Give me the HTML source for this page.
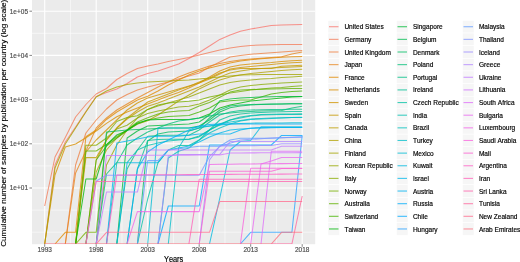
<!DOCTYPE html><html><head><meta charset="utf-8"><style>html,body{margin:0;padding:0;background:#fff;width:520px;height:262px;overflow:hidden}svg{display:block;will-change:transform}text{font-family:"Liberation Sans",sans-serif;font-kerning:none}</style></head><body>
<svg width="520" height="262" viewBox="0 0 520 262">
<rect x="0" y="0" width="520" height="262" fill="#fff"/>
<rect x="32.0" y="-2.0" width="283.20" height="246.20" fill="#EBEBEB"/>
<line x1="70.45" y1="-2.0" x2="70.45" y2="244.2" stroke="#fff" stroke-width="0.55"/>
<line x1="121.95" y1="-2.0" x2="121.95" y2="244.2" stroke="#fff" stroke-width="0.55"/>
<line x1="173.45" y1="-2.0" x2="173.45" y2="244.2" stroke="#fff" stroke-width="0.55"/>
<line x1="224.95" y1="-2.0" x2="224.95" y2="244.2" stroke="#fff" stroke-width="0.55"/>
<line x1="276.45" y1="-2.0" x2="276.45" y2="244.2" stroke="#fff" stroke-width="0.55"/>
<line x1="32.0" y1="232.20" x2="315.2" y2="232.20" stroke="#fff" stroke-width="0.55"/>
<line x1="32.0" y1="210.10" x2="315.2" y2="210.10" stroke="#fff" stroke-width="0.55"/>
<line x1="32.0" y1="165.90" x2="315.2" y2="165.90" stroke="#fff" stroke-width="0.55"/>
<line x1="32.0" y1="121.70" x2="315.2" y2="121.70" stroke="#fff" stroke-width="0.55"/>
<line x1="32.0" y1="77.50" x2="315.2" y2="77.50" stroke="#fff" stroke-width="0.55"/>
<line x1="32.0" y1="33.30" x2="315.2" y2="33.30" stroke="#fff" stroke-width="0.55"/>
<line x1="44.70" y1="-2.0" x2="44.70" y2="244.2" stroke="#fff" stroke-width="1.1"/>
<line x1="96.20" y1="-2.0" x2="96.20" y2="244.2" stroke="#fff" stroke-width="1.1"/>
<line x1="147.70" y1="-2.0" x2="147.70" y2="244.2" stroke="#fff" stroke-width="1.1"/>
<line x1="199.20" y1="-2.0" x2="199.20" y2="244.2" stroke="#fff" stroke-width="1.1"/>
<line x1="250.70" y1="-2.0" x2="250.70" y2="244.2" stroke="#fff" stroke-width="1.1"/>
<line x1="302.20" y1="-2.0" x2="302.20" y2="244.2" stroke="#fff" stroke-width="1.1"/>
<line x1="32.0" y1="188.00" x2="315.2" y2="188.00" stroke="#fff" stroke-width="1.1"/>
<line x1="32.0" y1="143.80" x2="315.2" y2="143.80" stroke="#fff" stroke-width="1.1"/>
<line x1="32.0" y1="99.60" x2="315.2" y2="99.60" stroke="#fff" stroke-width="1.1"/>
<line x1="32.0" y1="55.40" x2="315.2" y2="55.40" stroke="#fff" stroke-width="1.1"/>
<line x1="32.0" y1="11.20" x2="315.2" y2="11.20" stroke="#fff" stroke-width="1.1"/>
<defs><clipPath id="pc"><rect x="32.0" y="-2.0" width="283.20" height="246.00"/></clipPath></defs>
<g fill="none" stroke-width="1.05" stroke-linejoin="round" stroke-linecap="butt" stroke-opacity="0.78" clip-path="url(#pc)">
<polyline points="44.70,244.00 55.00,165.00 65.30,142.00 75.60,127.00 85.90,111.50 96.20,96.50 106.50,92.50 116.80,89.00 127.10,83.50 137.40,77.00 147.70,73.50 158.00,71.00 168.30,67.50 178.60,64.00 188.90,58.50 199.20,52.50 209.50,46.00 219.80,39.40 230.10,35.00 240.40,31.30 250.70,29.00 261.00,27.30 271.30,25.60 281.60,25.00 291.90,24.70 302.20,24.40" stroke="#F8766D"/>
<polyline points="44.70,206.00 55.00,157.00 65.30,137.50 75.60,117.00 85.90,104.50 96.20,94.00 106.50,88.50 116.80,79.50 127.10,73.50 137.40,68.50 147.70,66.00 158.00,64.00 168.30,61.50 178.60,59.50 188.90,57.50 199.20,55.00 209.50,52.50 219.80,50.00 230.10,48.00 240.40,46.50 250.70,45.50 261.00,45.00 271.30,44.80 281.60,44.60 291.90,44.50 302.20,44.50" stroke="#F37B59"/>
<polyline points="65.30,244.00 75.60,165.00 85.90,133.00 96.20,120.00 106.50,109.00 116.80,100.00 127.10,94.50 137.40,90.00 147.70,87.00 158.00,84.50 168.30,82.00 178.60,79.00 188.90,76.00 199.20,73.00 209.50,67.00 219.80,62.00 230.10,57.00 240.40,55.50 250.70,54.20 261.00,53.50 271.30,52.80 281.60,52.00 291.90,51.20 302.20,50.40" stroke="#EE8042"/>
<polyline points="65.30,244.00 75.60,173.00 85.90,151.00 96.20,128.00 106.50,118.00 116.80,110.00 127.10,104.00 137.40,98.00 147.70,92.50 158.00,87.00 168.30,82.00 178.60,77.00 188.90,73.00 199.20,69.50 209.50,66.00 219.80,63.50 230.10,61.50 240.40,60.00 250.70,59.00 261.00,58.20 271.30,57.50 281.60,56.80 291.90,54.00 302.20,52.00" stroke="#E7851E"/>
<polyline points="55.00,244.00 65.30,232.30 75.60,232.30 85.90,136.70 96.20,130.00 106.50,119.50 116.80,112.00 127.10,106.00 137.40,100.00 147.70,96.30 158.00,91.00 168.30,85.00 178.60,80.00 188.90,75.00 199.20,71.00 209.50,68.00 219.80,65.50 230.10,63.00 240.40,61.00 250.70,59.80 261.00,58.80 271.30,58.00 281.60,57.30 291.90,56.80 302.20,56.40" stroke="#E08A00"/>
<polyline points="44.70,244.00 55.00,175.00 65.30,147.00 75.60,144.00 85.90,137.70 96.20,131.00 106.50,123.40 116.80,116.70 127.10,112.00 137.40,108.00 147.70,104.00 158.00,100.00 168.30,96.00 178.60,92.50 188.90,88.00 199.20,83.00 209.50,77.00 219.80,71.00 230.10,67.00 240.40,65.00 250.70,64.00 261.00,63.20 271.30,62.50 281.60,61.50 291.90,60.80 302.20,60.30" stroke="#D98F00"/>
<polyline points="75.60,244.00 85.90,152.00 96.20,140.00 106.50,130.00 116.80,120.00 127.10,110.00 137.40,103.00 147.70,98.00 158.00,95.00 168.30,92.00 178.60,89.00 188.90,86.00 199.20,83.00 209.50,79.00 219.80,74.00 230.10,69.00 240.40,67.50 250.70,66.50 261.00,65.50 271.30,64.50 281.60,63.50 291.90,62.80 302.20,62.20" stroke="#D09400"/>
<polyline points="85.90,244.00 96.20,160.00 106.50,140.00 116.80,128.00 127.10,118.00 137.40,110.00 147.70,102.00 158.00,98.00 168.30,94.00 178.60,90.00 188.90,86.50 199.20,82.00 209.50,78.00 219.80,73.00 230.10,70.00 240.40,68.50 250.70,68.50 261.00,68.50 271.30,68.50 281.60,66.30 291.90,65.80 302.20,65.30" stroke="#C79800"/>
<polyline points="75.60,244.00 85.90,157.60 96.20,157.60 106.50,140.00 116.80,128.00 127.10,119.00 137.40,112.00 147.70,106.30 158.00,103.00 168.30,99.00 178.60,95.00 188.90,91.00 199.20,87.00 209.50,82.00 219.80,77.00 230.10,73.00 240.40,71.00 250.70,69.50 261.00,68.50 271.30,68.00 281.60,67.50 291.90,67.00 302.20,66.50" stroke="#BD9D00"/>
<polyline points="85.90,244.00 96.20,172.00 106.50,150.00 116.80,138.00 127.10,130.00 137.40,124.00 147.70,120.80 158.00,115.00 168.30,108.00 178.60,101.00 188.90,95.00 199.20,89.00 209.50,84.00 219.80,80.00 230.10,77.00 240.40,75.00 250.70,73.50 261.00,72.50 271.30,71.50 281.60,70.50 291.90,69.80 302.20,69.20" stroke="#B2A100"/>
<polyline points="44.70,244.00 55.00,168.00 65.30,144.00 75.60,128.00 85.90,112.00 96.20,97.00 106.50,91.00 116.80,87.00 127.10,84.50 137.40,83.00 147.70,82.00 158.00,81.50 168.30,81.00 178.60,80.50 188.90,80.00 199.20,79.00 209.50,78.00 219.80,77.00 230.10,76.00 240.40,75.00 250.70,74.80 261.00,74.60 271.30,74.50 281.60,74.50 291.90,74.50 302.20,74.50" stroke="#A5A500"/>
<polyline points="96.20,244.00 106.50,165.00 116.80,145.00 127.10,130.00 137.40,118.00 147.70,109.40 158.00,106.00 168.30,103.00 178.60,100.00 188.90,97.00 199.20,93.00 209.50,89.00 219.80,85.00 230.10,82.50 240.40,81.00 250.70,80.00 261.00,79.00 271.30,78.50 281.60,77.50 291.90,77.00 302.20,76.30" stroke="#98A800"/>
<polyline points="75.60,244.00 85.90,145.30 96.20,145.30 106.50,138.00 116.80,129.00 127.10,125.30 137.40,118.00 147.70,113.60 158.00,111.00 168.30,109.00 178.60,107.00 188.90,106.30 199.20,104.00 209.50,100.00 219.80,95.00 230.10,90.00 240.40,87.00 250.70,85.50 261.00,84.50 271.30,83.80 281.60,83.00 291.90,82.50 302.20,82.00" stroke="#89AC00"/>
<polyline points="75.60,244.00 85.90,232.30 96.20,232.30 106.50,134.00 116.80,121.50 127.10,117.60 137.40,115.70 147.70,109.40 158.00,105.00 168.30,103.00 178.60,102.00 188.90,101.20 199.20,100.00 209.50,97.00 219.80,95.00 230.10,93.00 240.40,91.50 250.70,90.00 261.00,89.00 271.30,88.00 281.60,87.50 291.90,86.50 302.20,85.80" stroke="#77AF00"/>
<polyline points="75.60,244.00 85.90,151.00 96.20,151.00 106.50,144.40 116.80,136.70 127.10,130.00 137.40,122.00 147.70,117.70 158.00,114.00 168.30,112.00 178.60,111.00 188.90,110.50 199.20,106.00 209.50,102.50 219.80,97.30 230.10,92.10 240.40,90.00 250.70,89.50 261.00,89.30 271.30,89.00 281.60,88.80 291.90,88.60 302.20,88.50" stroke="#62B200"/>
<polyline points="85.90,244.00 96.20,160.00 106.50,146.00 116.80,138.00 127.10,130.50 137.40,124.00 147.70,120.00 158.00,118.00 168.30,116.50 178.60,116.00 188.90,115.60 199.20,112.00 209.50,108.00 219.80,102.00 230.10,100.80 240.40,100.00 250.70,99.90 261.00,97.00 271.30,94.00 281.60,92.50 291.90,91.50 302.20,91.00" stroke="#45B500"/>
<polyline points="75.60,244.00 85.90,179.00 96.20,179.00 106.50,145.00 116.80,135.00 127.10,130.50 137.40,123.00 147.70,120.00 158.00,119.50 168.30,119.50 178.60,119.50 188.90,119.50 199.20,118.00 209.50,114.00 219.80,108.00 230.10,105.00 240.40,103.00 250.70,101.00 261.00,100.00 271.30,99.00 281.60,98.00 291.90,97.00 302.20,96.40" stroke="#00B709"/>
<polyline points="116.80,244.00 127.10,138.00 137.40,131.00 147.70,126.00 158.00,125.50 168.30,125.00 178.60,124.50 188.90,123.90 199.20,122.00 209.50,115.00 219.80,100.80 230.10,99.00 240.40,98.00 250.70,97.50 261.00,97.00 271.30,96.80 281.60,96.60 291.90,96.50 302.20,96.40" stroke="#00BA38"/>
<polyline points="96.20,244.00 106.50,132.00 116.80,131.00 127.10,130.00 137.40,129.50 147.70,129.00 158.00,128.50 168.30,128.00 178.60,128.00 188.90,128.00 199.20,126.00 209.50,120.00 219.80,112.00 230.10,107.70 240.40,106.00 250.70,105.00 261.00,104.50 271.30,104.20 281.60,104.00 291.90,103.80 302.20,103.70" stroke="#00BC51"/>
<polyline points="137.40,244.00 147.70,141.00 158.00,134.00 168.30,132.00 178.60,131.50 188.90,131.00 199.20,128.00 209.50,118.00 219.80,110.00 230.10,106.00 240.40,105.00 250.70,104.50 261.00,104.20 271.30,104.00 281.60,103.90 291.90,103.80 302.20,103.70" stroke="#00BD65"/>
<polyline points="96.20,244.00 106.50,174.00 116.80,162.70 127.10,145.00 137.40,138.00 147.70,132.00 158.00,128.00 168.30,124.00 178.60,121.00 188.90,119.70 199.20,118.00 209.50,116.00 219.80,114.00 230.10,113.00 240.40,112.00 250.70,111.50 261.00,111.00 271.30,110.80 281.60,110.50 291.90,108.00 302.20,106.20" stroke="#00BF77"/>
<polyline points="116.80,244.00 127.10,169.00 137.40,150.00 147.70,136.20 158.00,135.50 168.30,135.20 178.60,135.20 188.90,135.20 199.20,130.00 209.50,122.00 219.80,115.00 230.10,112.00 240.40,110.50 250.70,110.00 261.00,109.80 271.30,109.60 281.60,109.40 291.90,109.30 302.20,109.20" stroke="#00C087"/>
<polyline points="127.10,244.00 137.40,169.00 147.70,140.40 158.00,139.50 168.30,139.30 178.60,139.30 188.90,139.30 199.20,136.00 209.50,130.00 219.80,120.00 230.10,116.00 240.40,114.00 250.70,113.00 261.00,112.50 271.30,112.00 281.60,111.80 291.90,111.60 302.20,111.50" stroke="#00C096"/>
<polyline points="137.40,244.00 147.70,199.00 158.00,162.70 168.30,150.00 178.60,145.50 188.90,145.50 199.20,140.00 209.50,130.00 219.80,125.00 230.10,120.00 240.40,117.00 250.70,115.50 261.00,114.50 271.30,114.20 281.60,114.00 291.90,113.90 302.20,113.80" stroke="#00C1A4"/>
<polyline points="106.50,244.00 116.80,162.70 127.10,162.70 137.40,150.00 147.70,145.50 158.00,143.00 168.30,141.00 178.60,140.00 188.90,139.30 199.20,136.90 209.50,130.00 219.80,124.00 230.10,120.00 240.40,118.00 250.70,116.00 261.00,115.00 271.30,114.80 281.60,114.60 291.90,114.50 302.20,114.40" stroke="#00C0B2"/>
<polyline points="158.00,244.00 168.30,158.00 178.60,151.30 188.90,148.00 199.20,140.00 209.50,133.00 219.80,128.00 230.10,124.00 240.40,121.00 250.70,119.50 261.00,119.00 271.30,118.50 281.60,118.00 291.90,117.60 302.20,117.30" stroke="#00C0BE"/>
<polyline points="168.30,244.00 178.60,148.00 188.90,131.00 199.20,128.00 209.50,126.00 219.80,124.00 230.10,122.00 240.40,120.50 250.70,119.00 261.00,118.50 271.30,118.00 281.60,117.80 291.90,117.60 302.20,117.50" stroke="#00BECA"/>
<polyline points="147.70,244.00 158.00,128.00 168.30,128.00 178.60,128.00 188.90,128.00 199.20,127.00 209.50,126.00 219.80,125.00 230.10,124.00 240.40,123.50 250.70,123.20 261.00,123.00 271.30,123.00 281.60,122.90 291.90,122.80 302.20,122.80" stroke="#00BCD6"/>
<polyline points="209.50,244.00 219.80,198.00 230.10,150.00 240.40,141.50 250.70,140.50 261.00,126.80 271.30,126.80 281.60,126.80 291.90,126.80 302.20,126.80" stroke="#00BAE0"/>
<polyline points="116.80,244.00 127.10,162.70 137.40,162.70 147.70,162.70 158.00,162.70 168.30,150.00 178.60,148.00 188.90,146.00 199.20,142.00 209.50,137.00 219.80,133.00 230.10,130.00 240.40,129.00 250.70,128.50 261.00,128.00 271.30,127.80 281.60,127.60 291.90,127.50 302.20,127.40" stroke="#00B7E9"/>
<polyline points="106.50,244.00 116.80,143.00 127.10,141.00 137.40,139.00 147.70,137.00 158.00,136.20 168.30,136.20 178.60,136.20 188.90,135.20 199.20,134.00 209.50,134.00 219.80,134.00 230.10,134.00 240.40,130.00 250.70,128.00 261.00,127.60 271.30,127.57 281.60,127.55 291.90,127.53 302.20,127.50" stroke="#00B3F2"/>
<polyline points="127.10,244.00 137.40,169.00 147.70,152.00 158.00,145.00 168.30,140.00 178.60,135.00 188.90,130.00 199.20,126.00 209.50,124.50 219.80,124.00 230.10,123.99 240.40,123.97 250.70,123.96 261.00,123.95 271.30,123.94 281.60,123.93 291.90,123.91 302.20,123.90" stroke="#00AEF9"/>
<polyline points="158.00,244.00 168.30,206.00 178.60,206.00 188.90,206.00 199.20,206.00 209.50,145.00 219.80,145.00 230.10,145.00 240.40,145.00 250.70,145.00 261.00,145.00 271.30,145.00 281.60,135.40 291.90,135.40 302.20,135.40" stroke="#00A9FF"/>
<polyline points="240.40,244.00 250.70,232.30 261.00,232.30 271.30,232.30 281.60,232.30 291.90,232.30 302.20,135.40" stroke="#29A3FF"/>
<polyline points="137.40,244.00 147.70,160.60 158.00,160.60 168.30,150.00 178.60,148.77 188.90,147.53 199.20,146.30 209.50,146.30 219.80,146.30 230.10,140.00 240.40,138.20 250.70,138.20 261.00,138.20 271.30,138.20 281.60,137.70 291.90,137.20 302.20,136.70" stroke="#619CFF"/>
<polyline points="85.90,244.00 96.20,181.00 106.50,175.20 116.80,175.20 127.10,175.20 137.40,175.20 147.70,175.20 158.00,175.20 168.30,175.20 178.60,175.20 188.90,175.20 199.20,175.20 209.50,156.50 219.80,146.30 230.10,143.15 240.40,140.00 250.70,139.33 261.00,138.67 271.30,138.00 281.60,137.73 291.90,137.47 302.20,137.20" stroke="#8295FF"/>
<polyline points="199.20,244.00 209.50,160.00 219.80,146.00 230.10,145.90 240.40,145.80 250.70,145.70 261.00,145.60 271.30,145.50 281.60,143.80 291.90,143.80 302.20,143.80" stroke="#9C8DFF"/>
<polyline points="158.00,244.00 168.30,156.00 178.60,154.40 188.90,154.40 199.20,154.40 209.50,154.40 219.80,154.40 230.10,141.50 240.40,141.50 250.70,141.50 261.00,141.50 271.30,141.50 281.60,141.50 291.90,141.50 302.20,141.50" stroke="#B186FF"/>
<polyline points="96.20,244.00 106.50,192.00 116.80,192.00 127.10,192.00 137.40,192.00 147.70,150.00 158.00,150.00 168.30,150.00 178.60,150.00 188.90,150.00 199.20,150.00 209.50,150.00 219.80,150.00 230.10,150.00 240.40,150.00 250.70,150.00 261.00,150.00 271.30,150.00 281.60,146.30 291.90,146.30 302.20,146.30" stroke="#C37EFF"/>
<polyline points="96.20,244.00 106.50,155.50 116.80,155.45 127.10,155.41 137.40,155.36 147.70,155.32 158.00,155.27 168.30,155.23 178.60,155.18 188.90,155.14 199.20,155.09 209.50,155.05 219.80,155.00 230.10,153.00 240.40,152.94 250.70,152.89 261.00,152.83 271.30,152.77 281.60,152.71 291.90,152.66 302.20,152.60" stroke="#D277FF"/>
<polyline points="261.00,244.00 271.30,151.30 281.60,151.30 291.90,151.30 302.20,151.30" stroke="#DF70F9"/>
<polyline points="250.70,244.00 261.00,164.00 271.30,161.00 281.60,157.40 291.90,157.40 302.20,157.40" stroke="#E96AF1"/>
<polyline points="127.10,244.00 137.40,211.60 147.70,211.60 158.00,211.60 168.30,211.60 178.60,211.60 188.90,211.60 199.20,211.60 209.50,164.40 219.80,164.29 230.10,164.18 240.40,164.07 250.70,163.96 261.00,163.84 271.30,163.73 281.60,163.62 291.90,163.51 302.20,163.40" stroke="#F166E8"/>
<polyline points="240.40,244.00 250.70,168.20 261.00,168.20 271.30,168.20 281.60,168.20 291.90,168.20 302.20,168.20" stroke="#F863DE"/>
<polyline points="199.20,244.00 209.50,171.20 219.80,171.20 230.10,171.20 240.40,171.20 250.70,171.20 261.00,171.20 271.30,171.20 281.60,168.50 291.90,168.50 302.20,168.50" stroke="#FC61D3"/>
<polyline points="106.50,244.00 116.80,175.00 127.10,174.94 137.40,174.89 147.70,174.83 158.00,174.78 168.30,174.72 178.60,174.67 188.90,174.61 199.20,174.56 209.50,174.50 219.80,174.44 230.10,174.39 240.40,174.33 250.70,174.28 261.00,174.22 271.30,174.17 281.60,174.11 291.90,174.06 302.20,174.00" stroke="#FF61C7"/>
<polyline points="188.90,244.00 199.20,179.30 209.50,179.30 219.80,179.30 230.10,179.30 240.40,179.30 250.70,179.30 261.00,179.30 271.30,179.30 281.60,179.30 291.90,179.30 302.20,179.30" stroke="#FF62BA"/>
<polyline points="85.90,244.00 96.20,181.40 106.50,181.40 116.80,181.40 127.10,181.40 137.40,181.40 147.70,181.40 158.00,181.40 168.30,181.40 178.60,181.40 188.90,181.40 199.20,181.40 209.50,181.40 219.80,181.40 230.10,181.40 240.40,181.40 250.70,181.40 261.00,181.40 271.30,181.40 281.60,181.40 291.90,181.40 302.20,181.40" stroke="#FF65AD"/>
<polyline points="291.90,244.00 302.20,196.00" stroke="#FF689E"/>
<polyline points="96.20,244.00 106.50,232.30 116.80,232.30 127.10,232.30 137.40,232.30 147.70,232.30 158.00,232.30 168.30,232.30 178.60,232.30 188.90,232.30 199.20,232.30 209.50,232.30 219.80,201.50 230.10,201.50 240.40,201.50 250.70,201.50 261.00,201.50 271.30,201.50 281.60,201.50 291.90,201.50 302.20,201.50" stroke="#FF6D8F"/>
<polyline points="271.30,244.00 281.60,232.30 291.90,232.30 302.20,232.30" stroke="#FC717F"/>
<line x1="44.70" y1="244.0" x2="271.30" y2="244.0" stroke="#FC717F" stroke-width="1.05" stroke-opacity="1.0"/>
<line x1="271.30" y1="244.0" x2="291.90" y2="244.0" stroke="#FF689E" stroke-width="1.05" stroke-opacity="1.0"/>
</g>
<g stroke="#333" stroke-width="0.6">
<line x1="29.40" y1="188.00" x2="32.0" y2="188.00"/>
<line x1="29.40" y1="143.80" x2="32.0" y2="143.80"/>
<line x1="29.40" y1="99.60" x2="32.0" y2="99.60"/>
<line x1="29.40" y1="55.40" x2="32.0" y2="55.40"/>
<line x1="29.40" y1="11.20" x2="32.0" y2="11.20"/>
<line x1="44.70" y1="244.2" x2="44.70" y2="246.80"/>
<line x1="96.20" y1="244.2" x2="96.20" y2="246.80"/>
<line x1="147.70" y1="244.2" x2="147.70" y2="246.80"/>
<line x1="199.20" y1="244.2" x2="199.20" y2="246.80"/>
<line x1="250.70" y1="244.2" x2="250.70" y2="246.80"/>
<line x1="302.20" y1="244.2" x2="302.20" y2="246.80"/>
</g>
<text transform="translate(28.00,190.40) scale(1,1.1)" font-size="6.5" fill="#4D4D4D" stroke="#4D4D4D" stroke-width="0.16" text-anchor="end" >1e+01</text>
<text transform="translate(28.00,146.20) scale(1,1.1)" font-size="6.5" fill="#4D4D4D" stroke="#4D4D4D" stroke-width="0.16" text-anchor="end" >1e+02</text>
<text transform="translate(28.00,102.00) scale(1,1.1)" font-size="6.5" fill="#4D4D4D" stroke="#4D4D4D" stroke-width="0.16" text-anchor="end" >1e+03</text>
<text transform="translate(28.00,57.80) scale(1,1.1)" font-size="6.5" fill="#4D4D4D" stroke="#4D4D4D" stroke-width="0.16" text-anchor="end" >1e+04</text>
<text transform="translate(28.00,13.60) scale(1,1.1)" font-size="6.5" fill="#4D4D4D" stroke="#4D4D4D" stroke-width="0.16" text-anchor="end" >1e+05</text>
<text transform="translate(44.70,251.80) scale(1,1.1)" font-size="6.5" fill="#4D4D4D" stroke="#4D4D4D" stroke-width="0.16" text-anchor="middle" >1993</text>
<text transform="translate(96.20,251.80) scale(1,1.1)" font-size="6.5" fill="#4D4D4D" stroke="#4D4D4D" stroke-width="0.16" text-anchor="middle" >1998</text>
<text transform="translate(147.70,251.80) scale(1,1.1)" font-size="6.5" fill="#4D4D4D" stroke="#4D4D4D" stroke-width="0.16" text-anchor="middle" >2003</text>
<text transform="translate(199.20,251.80) scale(1,1.1)" font-size="6.5" fill="#4D4D4D" stroke="#4D4D4D" stroke-width="0.16" text-anchor="middle" >2008</text>
<text transform="translate(250.70,251.80) scale(1,1.1)" font-size="6.5" fill="#4D4D4D" stroke="#4D4D4D" stroke-width="0.16" text-anchor="middle" >2013</text>
<text transform="translate(302.20,251.80) scale(1,1.1)" font-size="6.5" fill="#4D4D4D" stroke="#4D4D4D" stroke-width="0.16" text-anchor="middle" >2018</text>
<text transform="translate(173.60,262.00) scale(1,1.1)" font-size="7.42" fill="#000" stroke="#000" stroke-width="0.16" text-anchor="middle" >Years</text>
<text transform="translate(6.0,123.3) scale(1,1.1) rotate(-90)" x="0" y="0" font-size="7.42" text-anchor="middle" fill="#000" stroke="#000" stroke-width="0.14">Cumulative number of samples by publication per country (log scale)</text>
<g>
<rect x="328.0" y="20.40" width="11.5" height="12.64" fill="#F6F6F6" stroke="#fff" stroke-width="0.6"/>
<line x1="329.00" y1="26.72" x2="338.50" y2="26.72" stroke="#F8766D" stroke-width="1.1" stroke-opacity="0.75"/>
<text transform="translate(344.40,29.27) scale(1,1.1)" font-size="6.55" fill="#000" stroke="#000" stroke-width="0.16" text-anchor="start" >United States</text>
<rect x="328.0" y="33.04" width="11.5" height="12.64" fill="#F6F6F6" stroke="#fff" stroke-width="0.6"/>
<line x1="329.00" y1="39.36" x2="338.50" y2="39.36" stroke="#F37B59" stroke-width="1.1" stroke-opacity="0.75"/>
<text transform="translate(344.40,41.91) scale(1,1.1)" font-size="6.55" fill="#000" stroke="#000" stroke-width="0.16" text-anchor="start" >Germany</text>
<rect x="328.0" y="45.68" width="11.5" height="12.64" fill="#F6F6F6" stroke="#fff" stroke-width="0.6"/>
<line x1="329.00" y1="52.00" x2="338.50" y2="52.00" stroke="#EE8042" stroke-width="1.1" stroke-opacity="0.75"/>
<text transform="translate(344.40,54.55) scale(1,1.1)" font-size="6.55" fill="#000" stroke="#000" stroke-width="0.16" text-anchor="start" >United Kingdom</text>
<rect x="328.0" y="58.32" width="11.5" height="12.64" fill="#F6F6F6" stroke="#fff" stroke-width="0.6"/>
<line x1="329.00" y1="64.64" x2="338.50" y2="64.64" stroke="#E7851E" stroke-width="1.1" stroke-opacity="0.75"/>
<text transform="translate(344.40,67.19) scale(1,1.1)" font-size="6.55" fill="#000" stroke="#000" stroke-width="0.16" text-anchor="start" >Japan</text>
<rect x="328.0" y="70.96" width="11.5" height="12.64" fill="#F6F6F6" stroke="#fff" stroke-width="0.6"/>
<line x1="329.00" y1="77.28" x2="338.50" y2="77.28" stroke="#E08A00" stroke-width="1.1" stroke-opacity="0.75"/>
<text transform="translate(344.40,79.83) scale(1,1.1)" font-size="6.55" fill="#000" stroke="#000" stroke-width="0.16" text-anchor="start" >France</text>
<rect x="328.0" y="83.60" width="11.5" height="12.64" fill="#F6F6F6" stroke="#fff" stroke-width="0.6"/>
<line x1="329.00" y1="89.92" x2="338.50" y2="89.92" stroke="#D98F00" stroke-width="1.1" stroke-opacity="0.75"/>
<text transform="translate(344.40,92.47) scale(1,1.1)" font-size="6.55" fill="#000" stroke="#000" stroke-width="0.16" text-anchor="start" >Netherlands</text>
<rect x="328.0" y="96.24" width="11.5" height="12.64" fill="#F6F6F6" stroke="#fff" stroke-width="0.6"/>
<line x1="329.00" y1="102.56" x2="338.50" y2="102.56" stroke="#D09400" stroke-width="1.1" stroke-opacity="0.75"/>
<text transform="translate(344.40,105.11) scale(1,1.1)" font-size="6.55" fill="#000" stroke="#000" stroke-width="0.16" text-anchor="start" >Sweden</text>
<rect x="328.0" y="108.88" width="11.5" height="12.64" fill="#F6F6F6" stroke="#fff" stroke-width="0.6"/>
<line x1="329.00" y1="115.20" x2="338.50" y2="115.20" stroke="#C79800" stroke-width="1.1" stroke-opacity="0.75"/>
<text transform="translate(344.40,117.75) scale(1,1.1)" font-size="6.55" fill="#000" stroke="#000" stroke-width="0.16" text-anchor="start" >Spain</text>
<rect x="328.0" y="121.52" width="11.5" height="12.64" fill="#F6F6F6" stroke="#fff" stroke-width="0.6"/>
<line x1="329.00" y1="127.84" x2="338.50" y2="127.84" stroke="#BD9D00" stroke-width="1.1" stroke-opacity="0.75"/>
<text transform="translate(344.40,130.39) scale(1,1.1)" font-size="6.55" fill="#000" stroke="#000" stroke-width="0.16" text-anchor="start" >Canada</text>
<rect x="328.0" y="134.16" width="11.5" height="12.64" fill="#F6F6F6" stroke="#fff" stroke-width="0.6"/>
<line x1="329.00" y1="140.48" x2="338.50" y2="140.48" stroke="#B2A100" stroke-width="1.1" stroke-opacity="0.75"/>
<text transform="translate(344.40,143.03) scale(1,1.1)" font-size="6.55" fill="#000" stroke="#000" stroke-width="0.16" text-anchor="start" >China</text>
<rect x="328.0" y="146.80" width="11.5" height="12.64" fill="#F6F6F6" stroke="#fff" stroke-width="0.6"/>
<line x1="329.00" y1="153.12" x2="338.50" y2="153.12" stroke="#A5A500" stroke-width="1.1" stroke-opacity="0.75"/>
<text transform="translate(344.40,155.67) scale(1,1.1)" font-size="6.55" fill="#000" stroke="#000" stroke-width="0.16" text-anchor="start" >Finland</text>
<rect x="328.0" y="159.44" width="11.5" height="12.64" fill="#F6F6F6" stroke="#fff" stroke-width="0.6"/>
<line x1="329.00" y1="165.76" x2="338.50" y2="165.76" stroke="#98A800" stroke-width="1.1" stroke-opacity="0.75"/>
<text transform="translate(344.40,168.31) scale(1,1.1)" font-size="6.55" fill="#000" stroke="#000" stroke-width="0.16" text-anchor="start" >Korean Republic</text>
<rect x="328.0" y="172.08" width="11.5" height="12.64" fill="#F6F6F6" stroke="#fff" stroke-width="0.6"/>
<line x1="329.00" y1="178.40" x2="338.50" y2="178.40" stroke="#89AC00" stroke-width="1.1" stroke-opacity="0.75"/>
<text transform="translate(344.40,180.95) scale(1,1.1)" font-size="6.55" fill="#000" stroke="#000" stroke-width="0.16" text-anchor="start" >Italy</text>
<rect x="328.0" y="184.72" width="11.5" height="12.64" fill="#F6F6F6" stroke="#fff" stroke-width="0.6"/>
<line x1="329.00" y1="191.04" x2="338.50" y2="191.04" stroke="#77AF00" stroke-width="1.1" stroke-opacity="0.75"/>
<text transform="translate(344.40,193.59) scale(1,1.1)" font-size="6.55" fill="#000" stroke="#000" stroke-width="0.16" text-anchor="start" >Norway</text>
<rect x="328.0" y="197.36" width="11.5" height="12.64" fill="#F6F6F6" stroke="#fff" stroke-width="0.6"/>
<line x1="329.00" y1="203.68" x2="338.50" y2="203.68" stroke="#62B200" stroke-width="1.1" stroke-opacity="0.75"/>
<text transform="translate(344.40,206.23) scale(1,1.1)" font-size="6.55" fill="#000" stroke="#000" stroke-width="0.16" text-anchor="start" >Australia</text>
<rect x="328.0" y="210.00" width="11.5" height="12.64" fill="#F6F6F6" stroke="#fff" stroke-width="0.6"/>
<line x1="329.00" y1="216.32" x2="338.50" y2="216.32" stroke="#45B500" stroke-width="1.1" stroke-opacity="0.75"/>
<text transform="translate(344.40,218.87) scale(1,1.1)" font-size="6.55" fill="#000" stroke="#000" stroke-width="0.16" text-anchor="start" >Switzerland</text>
<rect x="328.0" y="222.64" width="11.5" height="12.64" fill="#F6F6F6" stroke="#fff" stroke-width="0.6"/>
<line x1="329.00" y1="228.96" x2="338.50" y2="228.96" stroke="#00B709" stroke-width="1.1" stroke-opacity="0.75"/>
<text transform="translate(344.40,231.51) scale(1,1.1)" font-size="6.55" fill="#000" stroke="#000" stroke-width="0.16" text-anchor="start" >Taiwan</text>
<rect x="396.5" y="20.40" width="11.5" height="12.64" fill="#F6F6F6" stroke="#fff" stroke-width="0.6"/>
<line x1="397.50" y1="26.72" x2="407.00" y2="26.72" stroke="#00BA38" stroke-width="1.1" stroke-opacity="0.75"/>
<text transform="translate(412.90,29.27) scale(1,1.1)" font-size="6.55" fill="#000" stroke="#000" stroke-width="0.16" text-anchor="start" >Singapore</text>
<rect x="396.5" y="33.04" width="11.5" height="12.64" fill="#F6F6F6" stroke="#fff" stroke-width="0.6"/>
<line x1="397.50" y1="39.36" x2="407.00" y2="39.36" stroke="#00BC51" stroke-width="1.1" stroke-opacity="0.75"/>
<text transform="translate(412.90,41.91) scale(1,1.1)" font-size="6.55" fill="#000" stroke="#000" stroke-width="0.16" text-anchor="start" >Belgium</text>
<rect x="396.5" y="45.68" width="11.5" height="12.64" fill="#F6F6F6" stroke="#fff" stroke-width="0.6"/>
<line x1="397.50" y1="52.00" x2="407.00" y2="52.00" stroke="#00BD65" stroke-width="1.1" stroke-opacity="0.75"/>
<text transform="translate(412.90,54.55) scale(1,1.1)" font-size="6.55" fill="#000" stroke="#000" stroke-width="0.16" text-anchor="start" >Denmark</text>
<rect x="396.5" y="58.32" width="11.5" height="12.64" fill="#F6F6F6" stroke="#fff" stroke-width="0.6"/>
<line x1="397.50" y1="64.64" x2="407.00" y2="64.64" stroke="#00BF77" stroke-width="1.1" stroke-opacity="0.75"/>
<text transform="translate(412.90,67.19) scale(1,1.1)" font-size="6.55" fill="#000" stroke="#000" stroke-width="0.16" text-anchor="start" >Poland</text>
<rect x="396.5" y="70.96" width="11.5" height="12.64" fill="#F6F6F6" stroke="#fff" stroke-width="0.6"/>
<line x1="397.50" y1="77.28" x2="407.00" y2="77.28" stroke="#00C087" stroke-width="1.1" stroke-opacity="0.75"/>
<text transform="translate(412.90,79.83) scale(1,1.1)" font-size="6.55" fill="#000" stroke="#000" stroke-width="0.16" text-anchor="start" >Portugal</text>
<rect x="396.5" y="83.60" width="11.5" height="12.64" fill="#F6F6F6" stroke="#fff" stroke-width="0.6"/>
<line x1="397.50" y1="89.92" x2="407.00" y2="89.92" stroke="#00C096" stroke-width="1.1" stroke-opacity="0.75"/>
<text transform="translate(412.90,92.47) scale(1,1.1)" font-size="6.55" fill="#000" stroke="#000" stroke-width="0.16" text-anchor="start" >Ireland</text>
<rect x="396.5" y="96.24" width="11.5" height="12.64" fill="#F6F6F6" stroke="#fff" stroke-width="0.6"/>
<line x1="397.50" y1="102.56" x2="407.00" y2="102.56" stroke="#00C1A4" stroke-width="1.1" stroke-opacity="0.75"/>
<text transform="translate(412.90,105.11) scale(1,1.1)" font-size="6.55" fill="#000" stroke="#000" stroke-width="0.16" text-anchor="start" >Czech Republic</text>
<rect x="396.5" y="108.88" width="11.5" height="12.64" fill="#F6F6F6" stroke="#fff" stroke-width="0.6"/>
<line x1="397.50" y1="115.20" x2="407.00" y2="115.20" stroke="#00C0B2" stroke-width="1.1" stroke-opacity="0.75"/>
<text transform="translate(412.90,117.75) scale(1,1.1)" font-size="6.55" fill="#000" stroke="#000" stroke-width="0.16" text-anchor="start" >India</text>
<rect x="396.5" y="121.52" width="11.5" height="12.64" fill="#F6F6F6" stroke="#fff" stroke-width="0.6"/>
<line x1="397.50" y1="127.84" x2="407.00" y2="127.84" stroke="#00C0BE" stroke-width="1.1" stroke-opacity="0.75"/>
<text transform="translate(412.90,130.39) scale(1,1.1)" font-size="6.55" fill="#000" stroke="#000" stroke-width="0.16" text-anchor="start" >Brazil</text>
<rect x="396.5" y="134.16" width="11.5" height="12.64" fill="#F6F6F6" stroke="#fff" stroke-width="0.6"/>
<line x1="397.50" y1="140.48" x2="407.00" y2="140.48" stroke="#00BECA" stroke-width="1.1" stroke-opacity="0.75"/>
<text transform="translate(412.90,143.03) scale(1,1.1)" font-size="6.55" fill="#000" stroke="#000" stroke-width="0.16" text-anchor="start" >Turkey</text>
<rect x="396.5" y="146.80" width="11.5" height="12.64" fill="#F6F6F6" stroke="#fff" stroke-width="0.6"/>
<line x1="397.50" y1="153.12" x2="407.00" y2="153.12" stroke="#00BCD6" stroke-width="1.1" stroke-opacity="0.75"/>
<text transform="translate(412.90,155.67) scale(1,1.1)" font-size="6.55" fill="#000" stroke="#000" stroke-width="0.16" text-anchor="start" >Mexico</text>
<rect x="396.5" y="159.44" width="11.5" height="12.64" fill="#F6F6F6" stroke="#fff" stroke-width="0.6"/>
<line x1="397.50" y1="165.76" x2="407.00" y2="165.76" stroke="#00BAE0" stroke-width="1.1" stroke-opacity="0.75"/>
<text transform="translate(412.90,168.31) scale(1,1.1)" font-size="6.55" fill="#000" stroke="#000" stroke-width="0.16" text-anchor="start" >Kuwait</text>
<rect x="396.5" y="172.08" width="11.5" height="12.64" fill="#F6F6F6" stroke="#fff" stroke-width="0.6"/>
<line x1="397.50" y1="178.40" x2="407.00" y2="178.40" stroke="#00B7E9" stroke-width="1.1" stroke-opacity="0.75"/>
<text transform="translate(412.90,180.95) scale(1,1.1)" font-size="6.55" fill="#000" stroke="#000" stroke-width="0.16" text-anchor="start" >Israel</text>
<rect x="396.5" y="184.72" width="11.5" height="12.64" fill="#F6F6F6" stroke="#fff" stroke-width="0.6"/>
<line x1="397.50" y1="191.04" x2="407.00" y2="191.04" stroke="#00B3F2" stroke-width="1.1" stroke-opacity="0.75"/>
<text transform="translate(412.90,193.59) scale(1,1.1)" font-size="6.55" fill="#000" stroke="#000" stroke-width="0.16" text-anchor="start" >Austria</text>
<rect x="396.5" y="197.36" width="11.5" height="12.64" fill="#F6F6F6" stroke="#fff" stroke-width="0.6"/>
<line x1="397.50" y1="203.68" x2="407.00" y2="203.68" stroke="#00AEF9" stroke-width="1.1" stroke-opacity="0.75"/>
<text transform="translate(412.90,206.23) scale(1,1.1)" font-size="6.55" fill="#000" stroke="#000" stroke-width="0.16" text-anchor="start" >Russia</text>
<rect x="396.5" y="210.00" width="11.5" height="12.64" fill="#F6F6F6" stroke="#fff" stroke-width="0.6"/>
<line x1="397.50" y1="216.32" x2="407.00" y2="216.32" stroke="#00A9FF" stroke-width="1.1" stroke-opacity="0.75"/>
<text transform="translate(412.90,218.87) scale(1,1.1)" font-size="6.55" fill="#000" stroke="#000" stroke-width="0.16" text-anchor="start" >Chile</text>
<rect x="396.5" y="222.64" width="11.5" height="12.64" fill="#F6F6F6" stroke="#fff" stroke-width="0.6"/>
<line x1="397.50" y1="228.96" x2="407.00" y2="228.96" stroke="#29A3FF" stroke-width="1.1" stroke-opacity="0.75"/>
<text transform="translate(412.90,231.51) scale(1,1.1)" font-size="6.55" fill="#000" stroke="#000" stroke-width="0.16" text-anchor="start" >Hungary</text>
<rect x="462.5" y="20.40" width="11.5" height="12.64" fill="#F6F6F6" stroke="#fff" stroke-width="0.6"/>
<line x1="463.50" y1="26.72" x2="473.00" y2="26.72" stroke="#619CFF" stroke-width="1.1" stroke-opacity="0.75"/>
<text transform="translate(478.90,29.27) scale(1,1.1)" font-size="6.55" fill="#000" stroke="#000" stroke-width="0.16" text-anchor="start" >Malaysia</text>
<rect x="462.5" y="33.04" width="11.5" height="12.64" fill="#F6F6F6" stroke="#fff" stroke-width="0.6"/>
<line x1="463.50" y1="39.36" x2="473.00" y2="39.36" stroke="#8295FF" stroke-width="1.1" stroke-opacity="0.75"/>
<text transform="translate(478.90,41.91) scale(1,1.1)" font-size="6.55" fill="#000" stroke="#000" stroke-width="0.16" text-anchor="start" >Thailand</text>
<rect x="462.5" y="45.68" width="11.5" height="12.64" fill="#F6F6F6" stroke="#fff" stroke-width="0.6"/>
<line x1="463.50" y1="52.00" x2="473.00" y2="52.00" stroke="#9C8DFF" stroke-width="1.1" stroke-opacity="0.75"/>
<text transform="translate(478.90,54.55) scale(1,1.1)" font-size="6.55" fill="#000" stroke="#000" stroke-width="0.16" text-anchor="start" >Iceland</text>
<rect x="462.5" y="58.32" width="11.5" height="12.64" fill="#F6F6F6" stroke="#fff" stroke-width="0.6"/>
<line x1="463.50" y1="64.64" x2="473.00" y2="64.64" stroke="#B186FF" stroke-width="1.1" stroke-opacity="0.75"/>
<text transform="translate(478.90,67.19) scale(1,1.1)" font-size="6.55" fill="#000" stroke="#000" stroke-width="0.16" text-anchor="start" >Greece</text>
<rect x="462.5" y="70.96" width="11.5" height="12.64" fill="#F6F6F6" stroke="#fff" stroke-width="0.6"/>
<line x1="463.50" y1="77.28" x2="473.00" y2="77.28" stroke="#C37EFF" stroke-width="1.1" stroke-opacity="0.75"/>
<text transform="translate(478.90,79.83) scale(1,1.1)" font-size="6.55" fill="#000" stroke="#000" stroke-width="0.16" text-anchor="start" >Ukraine</text>
<rect x="462.5" y="83.60" width="11.5" height="12.64" fill="#F6F6F6" stroke="#fff" stroke-width="0.6"/>
<line x1="463.50" y1="89.92" x2="473.00" y2="89.92" stroke="#D277FF" stroke-width="1.1" stroke-opacity="0.75"/>
<text transform="translate(478.90,92.47) scale(1,1.1)" font-size="6.55" fill="#000" stroke="#000" stroke-width="0.16" text-anchor="start" >Lithuania</text>
<rect x="462.5" y="96.24" width="11.5" height="12.64" fill="#F6F6F6" stroke="#fff" stroke-width="0.6"/>
<line x1="463.50" y1="102.56" x2="473.00" y2="102.56" stroke="#DF70F9" stroke-width="1.1" stroke-opacity="0.75"/>
<text transform="translate(478.90,105.11) scale(1,1.1)" font-size="6.55" fill="#000" stroke="#000" stroke-width="0.16" text-anchor="start" >South Africa</text>
<rect x="462.5" y="108.88" width="11.5" height="12.64" fill="#F6F6F6" stroke="#fff" stroke-width="0.6"/>
<line x1="463.50" y1="115.20" x2="473.00" y2="115.20" stroke="#E96AF1" stroke-width="1.1" stroke-opacity="0.75"/>
<text transform="translate(478.90,117.75) scale(1,1.1)" font-size="6.55" fill="#000" stroke="#000" stroke-width="0.16" text-anchor="start" >Bulgaria</text>
<rect x="462.5" y="121.52" width="11.5" height="12.64" fill="#F6F6F6" stroke="#fff" stroke-width="0.6"/>
<line x1="463.50" y1="127.84" x2="473.00" y2="127.84" stroke="#F166E8" stroke-width="1.1" stroke-opacity="0.75"/>
<text transform="translate(478.90,130.39) scale(1,1.1)" font-size="6.55" fill="#000" stroke="#000" stroke-width="0.16" text-anchor="start" >Luxembourg</text>
<rect x="462.5" y="134.16" width="11.5" height="12.64" fill="#F6F6F6" stroke="#fff" stroke-width="0.6"/>
<line x1="463.50" y1="140.48" x2="473.00" y2="140.48" stroke="#F863DE" stroke-width="1.1" stroke-opacity="0.75"/>
<text transform="translate(478.90,143.03) scale(1,1.1)" font-size="6.55" fill="#000" stroke="#000" stroke-width="0.16" text-anchor="start" >Saudi Arabia</text>
<rect x="462.5" y="146.80" width="11.5" height="12.64" fill="#F6F6F6" stroke="#fff" stroke-width="0.6"/>
<line x1="463.50" y1="153.12" x2="473.00" y2="153.12" stroke="#FC61D3" stroke-width="1.1" stroke-opacity="0.75"/>
<text transform="translate(478.90,155.67) scale(1,1.1)" font-size="6.55" fill="#000" stroke="#000" stroke-width="0.16" text-anchor="start" >Mali</text>
<rect x="462.5" y="159.44" width="11.5" height="12.64" fill="#F6F6F6" stroke="#fff" stroke-width="0.6"/>
<line x1="463.50" y1="165.76" x2="473.00" y2="165.76" stroke="#FF61C7" stroke-width="1.1" stroke-opacity="0.75"/>
<text transform="translate(478.90,168.31) scale(1,1.1)" font-size="6.55" fill="#000" stroke="#000" stroke-width="0.16" text-anchor="start" >Argentina</text>
<rect x="462.5" y="172.08" width="11.5" height="12.64" fill="#F6F6F6" stroke="#fff" stroke-width="0.6"/>
<line x1="463.50" y1="178.40" x2="473.00" y2="178.40" stroke="#FF62BA" stroke-width="1.1" stroke-opacity="0.75"/>
<text transform="translate(478.90,180.95) scale(1,1.1)" font-size="6.55" fill="#000" stroke="#000" stroke-width="0.16" text-anchor="start" >Iran</text>
<rect x="462.5" y="184.72" width="11.5" height="12.64" fill="#F6F6F6" stroke="#fff" stroke-width="0.6"/>
<line x1="463.50" y1="191.04" x2="473.00" y2="191.04" stroke="#FF65AD" stroke-width="1.1" stroke-opacity="0.75"/>
<text transform="translate(478.90,193.59) scale(1,1.1)" font-size="6.55" fill="#000" stroke="#000" stroke-width="0.16" text-anchor="start" >Sri Lanka</text>
<rect x="462.5" y="197.36" width="11.5" height="12.64" fill="#F6F6F6" stroke="#fff" stroke-width="0.6"/>
<line x1="463.50" y1="203.68" x2="473.00" y2="203.68" stroke="#FF689E" stroke-width="1.1" stroke-opacity="0.75"/>
<text transform="translate(478.90,206.23) scale(1,1.1)" font-size="6.55" fill="#000" stroke="#000" stroke-width="0.16" text-anchor="start" >Tunisia</text>
<rect x="462.5" y="210.00" width="11.5" height="12.64" fill="#F6F6F6" stroke="#fff" stroke-width="0.6"/>
<line x1="463.50" y1="216.32" x2="473.00" y2="216.32" stroke="#FF6D8F" stroke-width="1.1" stroke-opacity="0.75"/>
<text transform="translate(478.90,218.87) scale(1,1.1)" font-size="6.55" fill="#000" stroke="#000" stroke-width="0.16" text-anchor="start" >New Zealand</text>
<rect x="462.5" y="222.64" width="11.5" height="12.64" fill="#F6F6F6" stroke="#fff" stroke-width="0.6"/>
<line x1="463.50" y1="228.96" x2="473.00" y2="228.96" stroke="#FC717F" stroke-width="1.1" stroke-opacity="0.75"/>
<text transform="translate(478.90,231.51) scale(1,1.1)" font-size="6.55" fill="#000" stroke="#000" stroke-width="0.16" text-anchor="start" >Arab Emirates</text>
</g>
</svg></body></html>
